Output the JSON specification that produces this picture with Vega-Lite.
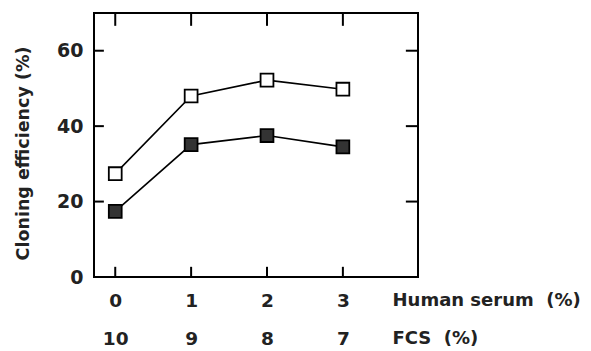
{
  "$schema": "https://vega.github.io/schema/vega-lite/v6.json",
  "width": 324,
  "height": 264,
  "autosize": {"type": "none"},
  "padding": {"left": 94, "top": 13, "right": 173, "bottom": 74},
  "background": "white",
  "config": {
    "view": {"stroke": "black", "strokeWidth": 2},
    "axis": {
      "grid": false,
      "domain": false,
      "ticks": false,
      "labelFont": "DejaVu Sans",
      "labelFontWeight": "bold",
      "labelColor": "#222",
      "titleFont": "DejaVu Sans",
      "titleFontWeight": "bold",
      "titleColor": "#222"
    }
  },
  "datasets": {
    "points": [
      {"serum": 0, "series": "open", "eff": 27.4},
      {"serum": 1, "series": "open", "eff": 48.0},
      {"serum": 2, "series": "open", "eff": 52.2},
      {"serum": 3, "series": "open", "eff": 49.8},
      {"serum": 0, "series": "filled", "eff": 17.4},
      {"serum": 1, "series": "filled", "eff": 35.1},
      {"serum": 2, "series": "filled", "eff": 37.5},
      {"serum": 3, "series": "filled", "eff": 34.5}
    ],
    "xticks": [{"v": 0}, {"v": 1}, {"v": 2}, {"v": 3}],
    "yticks": [{"v": 0}, {"v": 20}, {"v": 40}, {"v": 60}]
  },
  "layer": [
    {
      "data": {"name": "points"},
      "mark": {"type": "line", "color": "black", "strokeWidth": 1.6},
      "encoding": {
        "x": {
          "field": "serum", "type": "quantitative",
          "scale": {"domain": [-0.28, 3.99], "nice": false, "zero": false},
          "axis": {
            "orient": "bottom",
            "values": [0, 1, 2, 3],
            "format": "d",
            "labelFontSize": 18.5,
            "labelPadding": 14,
            "labelLineHeight": 38,
            "labelExpr": "[datum.label, datum.value == 0 ? '10' : datum.value == 1 ? '9' : datum.value == 2 ? '8' : '7']",
            "title": ["Human serum\u00a0\u00a0(%)", "FCS\u00a0\u00a0(%)"],
            "titleFontSize": 18,
            "titleAlign": "left",
            "titleAnchor": "start",
            "titleBaseline": "top",
            "titleLineHeight": 38,
            "titleX": 298,
            "titleY": 14,
            "titleAngle": 0
          }
        },
        "y": {
          "field": "eff", "type": "quantitative",
          "scale": {"domain": [0, 70], "nice": false},
          "axis": {
            "orient": "left",
            "values": [0, 20, 40, 60],
            "format": "d",
            "labelFontSize": 19,
            "labelPadding": 11,
            "title": "Cloning efficiency (%)",
            "titleFontSize": 17.5,
            "titlePadding": 24,
            "titleY": 140
          }
        },
        "detail": {"field": "series"}
      }
    },
    {
      "data": {"name": "points"},
      "mark": {"type": "square", "size": 165, "stroke": "black", "strokeWidth": 1.8, "opacity": 1},
      "encoding": {
        "x": {"field": "serum", "type": "quantitative"},
        "y": {"field": "eff", "type": "quantitative"},
        "fill": {
          "field": "series", "type": "nominal",
          "scale": {"domain": ["open", "filled"], "range": ["white", "#333333"]},
          "legend": null
        }
      }
    },
    {
      "data": {"name": "xticks"},
      "mark": {"type": "rule", "color": "black", "strokeWidth": 2},
      "encoding": {
        "x": {"field": "v", "type": "quantitative"},
        "y": {"datum": 0},
        "y2": {"datum": 2.7}
      }
    },
    {
      "data": {"name": "xticks"},
      "mark": {"type": "rule", "color": "black", "strokeWidth": 2},
      "encoding": {
        "x": {"field": "v", "type": "quantitative"},
        "y": {"datum": 70},
        "y2": {"datum": 66.6}
      }
    },
    {
      "data": {"name": "yticks"},
      "mark": {"type": "rule", "color": "black", "strokeWidth": 2},
      "encoding": {
        "y": {"field": "v", "type": "quantitative"},
        "x": {"datum": -0.28},
        "x2": {"datum": -0.15}
      }
    },
    {
      "data": {"name": "yticks"},
      "mark": {"type": "rule", "color": "black", "strokeWidth": 2},
      "encoding": {
        "y": {"field": "v", "type": "quantitative"},
        "x": {"datum": 3.99},
        "x2": {"datum": 3.83}
      }
    }
  ]
}
